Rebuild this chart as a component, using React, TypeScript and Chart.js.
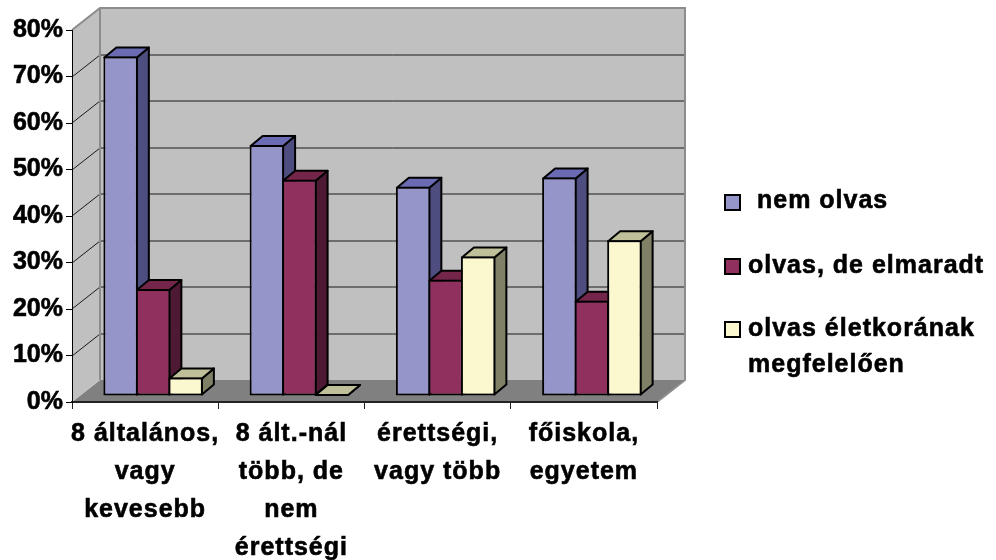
import React, { useEffect, useRef } from "react";
import { Chart, CategoryScale, registerables } from "chart.js";

const categories = [
  ["8 általános,", "vagy", "kevesebb"],
  ["8 ált.-nál", "több, de", "nem", "érettségi"],
  ["érettségi,", "vagy több"],
  ["főiskola,", "egyetem"],
];
const seriesNames = ["nem olvas", "olvas, de elmaradt", "olvas életkorának megfelelően"];
const nemOlvas = [73, 54, 45, 47];
const elmaradt = [23, 46.5, 25, 20.5];
const megfelelo = [4, 0, 30, 33.5];
const legendLines = [[" nem olvas"], ["olvas, de elmaradt"], ["olvas életkorának", "megfelelően"]];

const FONT = "'Liberation Sans', Arial, sans-serif";
const LABEL_FONT = `bold 25px ${FONT}`;

// Colours of each series: front, side and top faces of the box.
const faces = [
  { front: "#9595C9", side: "#4D4D80", top: "#6B6BB3" },
  { front: "#90305F", side: "#4D1933", top: "#732649" },
  { front: "#FBF7CE", side: "#808066", top: "#BFBF99" },
];

// Depth of the floor, and the bars' position within that depth.
const DEPTH_X = 28;
const DEPTH_Y = -22;
const BAR_SHIFT_X = 8;
const BAR_SHIFT_Y = -6;
const BAR_DEPTH_X = 12;
const BAR_DEPTH_Y = -10;

const poly = (ctx: CanvasRenderingContext2D, pts: number[][], fill: string | null, stroke: string | null, lw = 2) => {
  ctx.beginPath();
  pts.forEach(([x, y], i) => (i ? ctx.lineTo(x, y) : ctx.moveTo(x, y)));
  ctx.closePath();
  if (fill) {
    ctx.fillStyle = fill;
    ctx.fill();
  }
  if (stroke) {
    ctx.strokeStyle = stroke;
    ctx.lineWidth = lw;
    ctx.lineJoin = "round";
    ctx.stroke();
  }
};

// Category axis whose labels carry a little extra tracking.
class TrackedCategoryScale extends CategoryScale {
  static id = "trackedCategory";
  static defaults = CategoryScale.defaults;
  drawLabels(area: any) {
    const ctx = (this as any).ctx;
    ctx.letterSpacing = "1px";
    super.drawLabels(area);
    ctx.letterSpacing = "0px";
  }
}

// Walls and floor of the box, with gridlines running along side wall and back wall.
const boxPlugin = {
  id: "box3d",
  beforeDraw(chart: any) {
    const { ctx, chartArea: a, scales } = chart;
    const dx = DEPTH_X;
    const dy = DEPTH_Y;
    ctx.save();
    poly(ctx, [[a.left, a.bottom], [a.left + dx, a.bottom + dy], [a.right + dx, a.bottom + dy], [a.right, a.bottom]], "#808080", null);
    poly(ctx, [[a.left, a.top], [a.left + dx, a.top + dy], [a.left + dx, a.bottom + dy], [a.left, a.bottom]], "#C0C0C0", null);
    ctx.fillStyle = "#C0C0C0";
    ctx.fillRect(a.left + dx, a.top + dy, a.right - a.left, a.bottom - a.top);

    ctx.strokeStyle = "#1A1A1A";
    ctx.lineWidth = 1;
    scales.y.ticks.forEach((t: any) => {
      if (t.value === 0 || t.value === 80) return;
      const y = Math.round(scales.y.getPixelForValue(t.value));
      ctx.beginPath();
      ctx.moveTo(a.left, y);
      ctx.lineTo(a.left + dx, y + dy);
      ctx.lineTo(a.right + dx, y + dy);
      ctx.stroke();
    });

    ctx.strokeStyle = "#8C8C8C";
    ctx.lineWidth = 2;
    ctx.beginPath();
    ctx.moveTo(a.left, a.top);
    ctx.lineTo(a.left + dx, a.top + dy);
    ctx.lineTo(a.right + dx, a.top + dy);
    ctx.lineTo(a.right + dx, a.bottom + dy);
    ctx.lineTo(a.right, a.bottom);
    ctx.moveTo(a.left + dx, a.top + dy);
    ctx.lineTo(a.left + dx, a.bottom + dy);
    ctx.stroke();
    ctx.restore();
  },
  // Paints the series left to right, so each bar's front hides its neighbour's side face.
  beforeDatasetsDraw(chart: any) {
    const { ctx } = chart;
    ctx.save();
    ctx.translate(BAR_SHIFT_X, BAR_SHIFT_Y);
    faces.forEach((c, index) => {
      const meta = chart.getDatasetMeta(index);
      meta.data.forEach((bar: any) => {
        const { x, y, base, width } = bar.getProps(["x", "y", "base", "width"], true);
        const l = x - width / 2 + 1;
        const r = x + width / 2 - 1;
        const t = y + (base - y > 2 ? 1 : -1);
        const b = base - 1;
        const ox = BAR_DEPTH_X;
        const oy = BAR_DEPTH_Y;
        poly(ctx, [[r, t], [r + ox, t + oy], [r + ox, b + oy], [r, b]], c.side, "#000");
        poly(ctx, [[l, t], [l + ox, t + oy], [r + ox, t + oy], [r, t]], c.top, "#000");
      });
      meta.controller.draw();
    });
    ctx.restore();
    return false;
  },
};

// Legend column to the right of the box.
const legendPlugin = {
  id: "sideLegend",
  afterDraw(chart: any) {
    const { ctx } = chart;
    const boxY = [195, 259, 322];
    const firstBaseline = [208, 273, 336];
    const textX = [757, 748, 748];
    ctx.save();
    ctx.font = LABEL_FONT;
    ctx.letterSpacing = "1px";
    ctx.textBaseline = "alphabetic";
    ctx.textAlign = "left";
    faces.forEach((c, i) => {
      ctx.fillStyle = c.front;
      ctx.strokeStyle = "#000";
      ctx.lineWidth = 2;
      ctx.fillRect(725, boxY[i], 15, 15);
      ctx.strokeRect(725, boxY[i], 15, 15);
      ctx.fillStyle = "#000";
      ctx.lineWidth = 0.6;
      legendLines[i].forEach((line, j) => {
        ctx.fillText(line.trim(), textX[i], firstBaseline[i] + j * 36);
        ctx.strokeText(line.trim(), textX[i], firstBaseline[i] + j * 36);
      });
    });
    ctx.restore();
  },
};

Chart.register(...registerables, TrackedCategoryScale as any);

export default function App() {
  const ref = useRef<HTMLCanvasElement>(null);

  useEffect(() => {
    const series = [nemOlvas, elmaradt, megfelelo];
    const chart = new Chart(ref.current!, {
      type: "bar",
      data: {
        labels: categories as any,
        datasets: series.map((data, i) => ({
          label: seriesNames[i],
          data,
          backgroundColor: faces[i].front,
          borderColor: "#000",
          borderWidth: 2,
          borderSkipped: false,
          categoryPercentage: 0.667,
          barPercentage: 1.06,
        })) as any,
      },
      options: {
        responsive: false,
        animation: false,
        layout: { padding: { top: 30, right: 339, left: 0, bottom: 0 } },
        plugins: { legend: { display: false }, tooltip: { enabled: false } },
        scales: {
          x: {
            type: "trackedCategory" as any,
            offset: true,
            afterFit: (s: any) => {
              s.height = 158;
            },
            grid: {
              offset: true,
              drawOnChartArea: false,
              drawTicks: true,
              tickLength: 7,
              tickColor: "#222",
            },
            border: { color: "#222", width: 2 },
            ticks: {
              maxRotation: 0,
              minRotation: 0,
              autoSkip: false,
              padding: 6,
              color: "#000",
              textStrokeColor: "#000",
              textStrokeWidth: 0.6,
              font: { family: FONT, size: 25, weight: "bold", lineHeight: 1.52 },
            },
          } as any,
          y: {
            min: 0,
            max: 80,
            afterFit: (s: any) => {
              s.width = 72;
            },
            grid: { drawOnChartArea: false, drawTicks: true, tickLength: 6, tickColor: "#000" },
            border: { color: "#000", width: 1 },
            ticks: {
              stepSize: 10,
              padding: 3,
              color: "#000",
              textStrokeColor: "#000",
              textStrokeWidth: 0.6,
              font: { family: FONT, size: 25, weight: "bold" },
              callback: (v: any) => `${v}%`,
            },
          },
        },
      },
      plugins: [boxPlugin, legendPlugin],
    } as any);
    return () => chart.destroy();
  }, []);

  return (
    <div style={{ position: "absolute", left: 0, top: 0, width: 996, height: 560, background: "#fff" }}>
      <canvas ref={ref} width={996} height={560} style={{ display: "block" }} />
    </div>
  );
}
